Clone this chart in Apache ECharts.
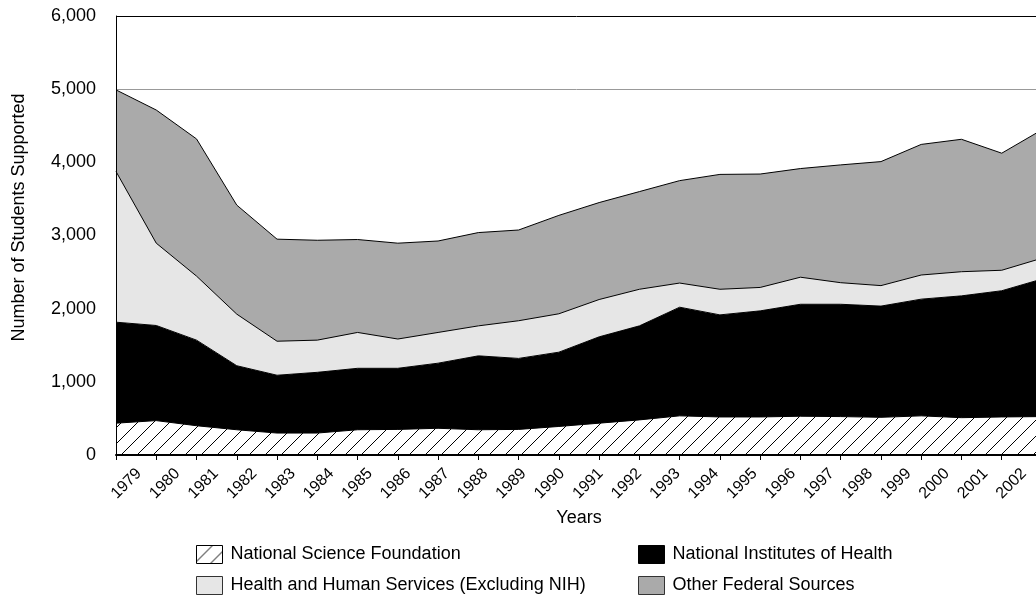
<!DOCTYPE html>
<html>
<head>
    <meta charset="utf-8">
    <title>Students Supported</title>
    <script src="https://cdn.jsdelivr.net/npm/echarts@6/dist/echarts.min.js"></script>
    <style>
        html, body { margin: 0; padding: 0; background: #fff; }
        #main { width: 1036px; height: 598px; }
    </style>
</head>
<body>
    <div id="main"></div>
    <script type="text/javascript">
        var years = ['1979', '1980', '1981', '1982', '1983', '1984', '1985', '1986', '1987', '1988', '1989', '1990',
                     '1991', '1992', '1993', '1994', '1995', '1996', '1997', '1998', '1999', '2000', '2001', '2002'];
        var nsf = [435, 470, 400, 345, 300, 300, 345, 350, 365, 345, 350, 390,
                   435, 480, 535, 520, 520, 530, 525, 515, 535, 510, 520, 525];
        var nih = [1380, 1300, 1170, 875, 790, 830, 840, 835, 890, 1010, 970, 1015,
                   1180, 1285, 1485, 1395, 1450, 1530, 1535, 1520, 1595, 1665, 1725, 1880];
        var hhs = [2060, 1125, 875, 705, 465, 440, 490, 400, 420, 410, 515, 525,
                   510, 500, 330, 350, 320, 370, 295, 280, 330, 330, 280, 285];
        var other = [1115, 1820, 1875, 1490, 1395, 1365, 1270, 1310, 1250, 1275, 1240, 1345,
                     1325, 1335, 1400, 1570, 1550, 1485, 1610, 1695, 1785, 1810, 1600, 1755];
        var names = ['National Science Foundation', 'National Institutes of Health',
                     'Health and Human Services (Excluding NIH)', 'Other Federal Sources'];

        // diagonal hatch for the NSF area
        var hatch = document.createElement('canvas');
        hatch.width = 16;
        hatch.height = 16;
        var hc = hatch.getContext('2d');
        hc.fillStyle = '#fff';
        hc.fillRect(0, 0, 16, 16);
        hc.strokeStyle = '#000';
        hc.lineWidth = 1;
        hc.beginPath();
        hc.moveTo(-1, 17); hc.lineTo(17, -1);
        hc.moveTo(-1, 1); hc.lineTo(1, -1);
        hc.moveTo(15, 17); hc.lineTo(17, 15);
        hc.stroke();
        var hatchFill = { image: hatch, repeat: 'repeat' };

        var font = 'Arial, "Liberation Sans", sans-serif';

        function area(name, values, fill) {
            return {
                name: name,
                type: 'line',
                stack: 'total',
                data: values,
                symbol: 'none',
                xAxisIndex: 0,
                yAxisIndex: 0,
                lineStyle: { color: '#000', width: 1 },
                itemStyle: { color: fill },
                areaStyle: { color: fill, opacity: 1 },
                emphasis: { disabled: true }
            };
        }

        var myChart = echarts.init(document.getElementById('main'));
        var option = {
            animation: false,
            textStyle: { fontFamily: font },
            grid: [
                { left: 116, top: 16, width: 926, height: 439, containLabel: false, outerBoundsMode: 'none' },
                { left: 139, top: 16, width: 885, height: 439, containLabel: false, outerBoundsMode: 'none' }
            ],
            legend: [
                {
                    orient: 'vertical', left: 196, top: 545, padding: 0, itemGap: 12,
                    itemWidth: 26, itemHeight: 18, icon: 'rect',
                    textStyle: { fontSize: 18, color: '#000', fontFamily: font, padding: [0, 0, 0, 3] },
                    data: [
                        { name: names[0], itemStyle: { color: hatchFill, borderColor: '#000', borderWidth: 1 } },
                        { name: names[2], itemStyle: { color: '#e6e6e6', borderColor: '#333', borderWidth: 1 } }
                    ]
                },
                {
                    orient: 'vertical', left: 638, top: 545, padding: 0, itemGap: 12,
                    itemWidth: 26, itemHeight: 18, icon: 'rect',
                    textStyle: { fontSize: 18, color: '#000', fontFamily: font, padding: [0, 0, 0, 3] },
                    data: [
                        { name: names[1], itemStyle: { color: '#000', borderColor: '#000', borderWidth: 1 } },
                        { name: names[3], itemStyle: { color: '#aaaaaa', borderColor: '#333', borderWidth: 1 } }
                    ]
                }
            ],
            xAxis: [
                {
                    type: 'category', gridIndex: 0, data: years, boundaryGap: false, z: 10,
                    name: 'Years', nameLocation: 'middle', nameGap: 54,
                    nameTextStyle: { fontSize: 18, color: '#000', fontFamily: font },
                    axisLine: { show: true, lineStyle: { color: '#000', width: 2 } },
                    axisTick: { show: true, interval: 0, length: 5, lineStyle: { color: '#000', width: 1 } },
                    axisLabel: { show: false },
                    splitLine: { show: false }
                },
                {
                    type: 'category', gridIndex: 1, data: years, boundaryGap: false,
                    axisLine: { show: false },
                    axisTick: { show: false },
                    axisLabel: { show: true, interval: 0, rotate: 45, margin: 16, fontSize: 16, color: '#000', fontFamily: font },
                    splitLine: { show: false }
                }
            ],
            yAxis: [
                {
                    type: 'value', gridIndex: 0, min: 0, max: 6000, interval: 1000, z: 10,
                    name: 'Number of Students Supported', nameLocation: 'middle', nameGap: 88,
                    nameTextStyle: { fontSize: 18, color: '#000', fontFamily: font, padding: [0, 0, 0, 36] },
                    axisLine: { show: true, lineStyle: { color: '#000', width: 1 } },
                    axisTick: { show: false },
                    axisLabel: {
                        margin: 20, fontSize: 18, color: '#000', fontFamily: font,
                        formatter: function (v) { return v.toLocaleString('en-US'); }
                    },
                    splitLine: {
                        show: true,
                        lineStyle: { width: 1, color: ['transparent', 'transparent', 'transparent', 'transparent', 'transparent', '#999', '#000'] }
                    }
                },
                { type: 'value', gridIndex: 1, show: false, min: 0, max: 6000 }
            ],
            series: [
                area(names[0], nsf, hatchFill),
                area(names[1], nih, '#000'),
                area(names[2], hhs, '#e6e6e6'),
                area(names[3], other, '#aaaaaa')
            ]
        };
        myChart.setOption(option);
    </script>
</body>
</html>
